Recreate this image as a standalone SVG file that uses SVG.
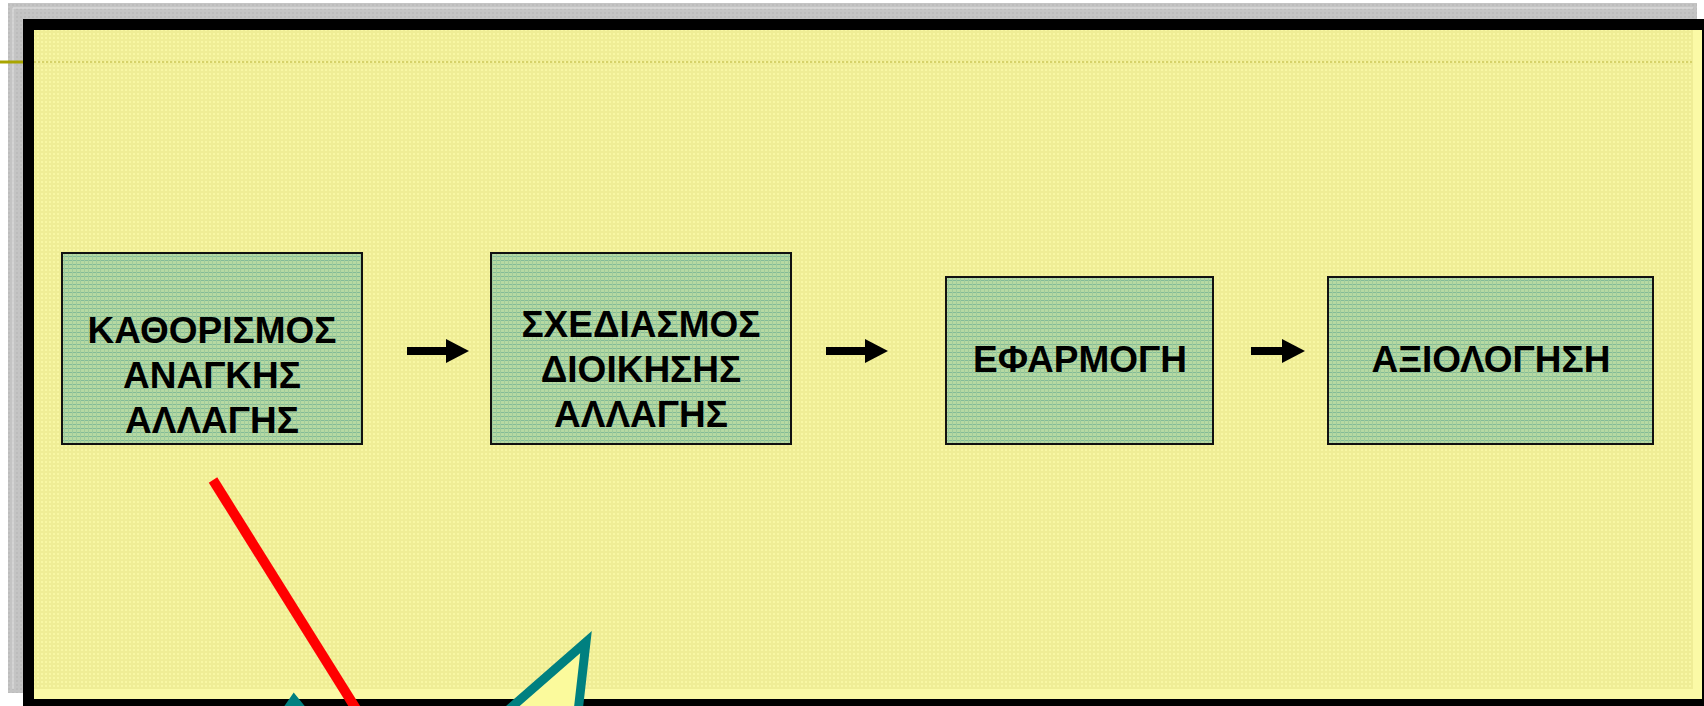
<svg xmlns="http://www.w3.org/2000/svg" width="1704" height="706" viewBox="0 0 1704 706">
  <defs>
    <!-- dotted slide texture -->
    <pattern id="dots" width="4" height="4" patternUnits="userSpaceOnUse">
      <rect width="4" height="4" fill="#efed96"/>
      <rect x="1" y="1" width="2" height="2" fill="#f8f7a4"/>
    </pattern>
    <!-- grid texture of the step boxes -->
    <pattern id="grid" width="4" height="4" patternUnits="userSpaceOnUse">
      <rect width="4" height="4" fill="#b6d9a2"/>
      <rect y="0" width="4" height="1" fill="#83bb98"/>
      <rect x="0" width="1" height="4" fill="#9fcb9c"/>
    </pattern>
    <!-- gray backdrop texture -->
    <pattern id="shade" width="4" height="4" patternUnits="userSpaceOnUse">
      <rect width="4" height="4" fill="#c4c4c4"/>
      <rect width="2" height="2" fill="#bcbcbc"/>
    </pattern>
    <marker id="head" viewBox="0 0 23 24" refX="0" refY="12" markerWidth="23" markerHeight="24" markerUnits="userSpaceOnUse" orient="auto">
      <path d="M0,0 L23,12 L0,24 Z" fill="#000"/>
    </marker>
  </defs>
  <style>
    .box { fill: url(#grid); stroke: #111; stroke-width: 2; }
    .label { font-family: "Liberation Sans", Arial, sans-serif; font-weight: bold; font-size: 37px; fill: #000; text-anchor: middle; }
    .flow { stroke: #000; stroke-width: 8; fill: none; marker-end: url(#head); }
  </style>

  <!-- page and frame -->
  <rect width="1704" height="706" fill="#ffffff"/>
  <rect x="8" y="3" width="1689" height="690" fill="url(#shade)"/>
  <path d="M13,689 V8 H1693" fill="none" stroke="#e4e4e4" stroke-width="1"/>
  <rect x="23" y="19" width="1690" height="700" fill="#000"/>
  <rect x="34" y="30" width="1668" height="669" fill="#fbfaa6"/>
  <rect x="34" y="30" width="1659" height="659" fill="url(#dots)"/>
  <line x1="0" y1="62" x2="23" y2="62" stroke="#a9a500" stroke-width="3"/>
  <line x1="34" y1="62" x2="1693" y2="62" stroke="#d6d26a" stroke-width="2" stroke-dasharray="2 2"/>

  <!-- process steps -->
  <g id="step1">
    <rect class="box" x="62" y="253" width="300" height="191"/>
    <text class="label" x="212" y="343">ΚΑΘΟΡΙΣΜΟΣ</text>
    <text class="label" x="212" y="388">ΑΝΑΓΚΗΣ</text>
    <text class="label" x="212" y="433">ΑΛΛΑΓΗΣ</text>
  </g>
  <g id="step2">
    <rect class="box" x="491" y="253" width="300" height="191"/>
    <text class="label" x="641" y="337">ΣΧΕΔΙΑΣΜΟΣ</text>
    <text class="label" x="641" y="382">ΔΙΟΙΚΗΣΗΣ</text>
    <text class="label" x="641" y="427">ΑΛΛΑΓΗΣ</text>
  </g>
  <g id="step3">
    <rect class="box" x="946" y="277" width="267" height="167"/>
    <text class="label" x="1080" y="372">ΕΦΑΡΜΟΓΗ</text>
  </g>
  <g id="step4">
    <rect class="box" x="1328" y="277" width="325" height="167"/>
    <text class="label" x="1491" y="372">ΑΞΙΟΛΟΓΗΣΗ</text>
  </g>

  <!-- connectors -->
  <g id="connectors">
    <line class="flow" x1="407" y1="351" x2="446" y2="351"/>
    <line class="flow" x1="826" y1="351" x2="865" y2="351"/>
    <line class="flow" x1="1251" y1="351" x2="1282" y2="351"/>
  </g>

  <!-- red pointer line and callout tips -->
  <g id="marks">
    <line x1="213" y1="480" x2="358" y2="712" stroke="#ff0000" stroke-width="10"/>
    <path d="M283,716 L294,700 L307,716" fill="none" stroke="#008080" stroke-width="9"/>
    <path d="M506,712 L586,642 L578,712" fill="#fbfa9c" stroke="#008080" stroke-width="9" stroke-linejoin="miter"/>
  </g>
</svg>
